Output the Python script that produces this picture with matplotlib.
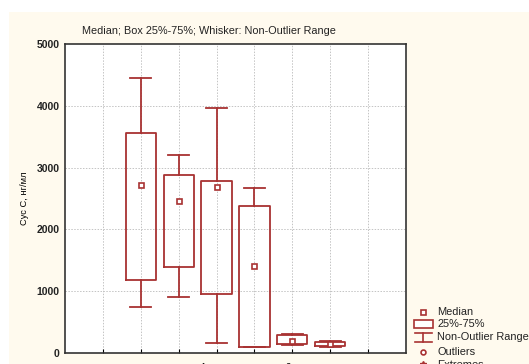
import matplotlib
matplotlib.use("Agg")
import matplotlib.pyplot as plt
from matplotlib.patches import Rectangle
from matplotlib.lines import Line2D

plt.rcParams['font.family'] = ['Liberation Sans', 'DejaVu Sans']

# Box statistics per group (ng/ml)
positions = [2, 3, 4, 5, 6, 7]
whisker_low = [744, 906, 167, 100, 130, 92]
q1 = [1176, 1386, 960, 100, 146, 108]
medians = [2713, 2465, 2680, 1408, 200, 141]
q3 = [3560, 2875, 2790, 2379, 291, 173]
whisker_high = [4455, 3198, 3970, 2665, 315, 198]

tick_positions = [2, 4, 6]
tick_labels = ["контроль", "1 сутки", "2 с"]

W, H = 529, 364
fig = plt.figure(figsize=(W / 100, H / 100), dpi=100)
fig.patch.set_facecolor('white')

# cream panel behind the plot
fig.patches.append(Rectangle((9 / W, 0), 1 - 9 / W, 1 - 12 / H, transform=fig.transFigure,
                             facecolor='#fffaee', edgecolor='none', zorder=-10))

ax = fig.add_axes([65 / W, 11 / H, (406 - 65) / W, (353 - 44) / H])
ax.set_facecolor('white')

red = '#a83232'
stats = []
for i in range(len(positions)):
    stats.append(dict(med=medians[i], q1=q1[i], q3=q3[i],
                      whislo=whisker_low[i], whishi=whisker_high[i], fliers=[]))

ax.bxp(stats, positions=positions, widths=0.8, capwidths=0.55, showfliers=False,
       boxprops=dict(color=red, linewidth=1.3),
       whiskerprops=dict(color=red, linewidth=1.3),
       capprops=dict(color=red, linewidth=1.3),
       medianprops=dict(visible=False), manage_ticks=False)
ax.plot(positions, medians, linestyle='none', marker='s', markersize=3.6,
        markerfacecolor='white', markeredgecolor=red, markeredgewidth=1.2, zorder=5)

ax.set_xlim(0, 9)
ax.set_ylim(0, 5000)
ax.set_yticks([0, 1000, 2000, 3000, 4000, 5000])
ax.set_xticks(range(1, 9), minor=True)
ax.set_xticks(tick_positions)
ax.set_xticklabels(tick_labels, fontsize=7)
ax.tick_params(axis='x', which='both', direction='in', length=3, width=0.8, pad=7)
ax.tick_params(axis='y', direction='in', length=0, labelsize=7.5, pad=4)
for lbl in ax.get_yticklabels():
    lbl.set_fontweight('bold')
    lbl.set_color('#222222')

for x in range(1, 9):
    ax.axvline(x, color='#c4c4c4', linestyle=(0, (1.5, 1.5)), linewidth=0.7, zorder=0)
for y in [1000, 2000, 3000, 4000]:
    ax.axhline(y, color='#c4c4c4', linestyle=(0, (1.5, 1.5)), linewidth=0.7, zorder=0)

for s in ax.spines.values():
    s.set_color('#333333')
    s.set_linewidth(1.2)

ax.set_ylabel("Сус С, нг/мл", fontsize=6.7)
ax.yaxis.set_label_coords(-36 / (406 - 65), 0.5)
fig.text(82 / W, 1 - 31 / H, "Median; Box 25%-75%; Whisker: Non-Outlier Range",
         fontsize=7.8, va='center', ha='left', color='#222222')

# legend drawn in pixel coordinates on the figure
def px(x, y):
    return x / W, 1 - y / H

tr = fig.transFigure
mx, tx = 423, 437
fig.lines.append(Line2D(*zip(px(mx, 312)), transform=tr, marker='s', markersize=3.6,
                        markerfacecolor='white', markeredgecolor=red, markeredgewidth=1.2,
                        linestyle='none'))
x0, y0 = px(414, 328)
x1, y1 = px(433, 320)
fig.patches.append(Rectangle((x0, y0), x1 - x0, y1 - y0, transform=tr,
                             facecolor='white', edgecolor=red, linewidth=1.2))
for seg in [((415, 333), (432, 333)), ((423, 333), (423, 342)), ((415, 342), (432, 342))]:
    (a, b), (c, d) = px(*seg[0]), px(*seg[1])
    fig.lines.append(Line2D([a, c], [b, d], transform=tr, color=red, linewidth=1.2))
fig.lines.append(Line2D(*zip(px(mx, 352)), transform=tr, marker='o', markersize=3.5,
                        markerfacecolor='white', markeredgecolor=red, markeredgewidth=1.2,
                        linestyle='none'))
fig.lines.append(Line2D(*zip(px(mx, 364)), transform=tr, marker='*', markersize=4,
                        color=red, linestyle='none'))
for y, t in [(312, "Median"), (324, "25%-75%"), (337, "Non-Outlier Range"),
             (352, "Outliers"), (365, "Extremes")]:
    fig.text(*px(tx, y), t, fontsize=7.9, va='center', ha='left', color='#222222')

fig.savefig("out.png", dpi=100)
